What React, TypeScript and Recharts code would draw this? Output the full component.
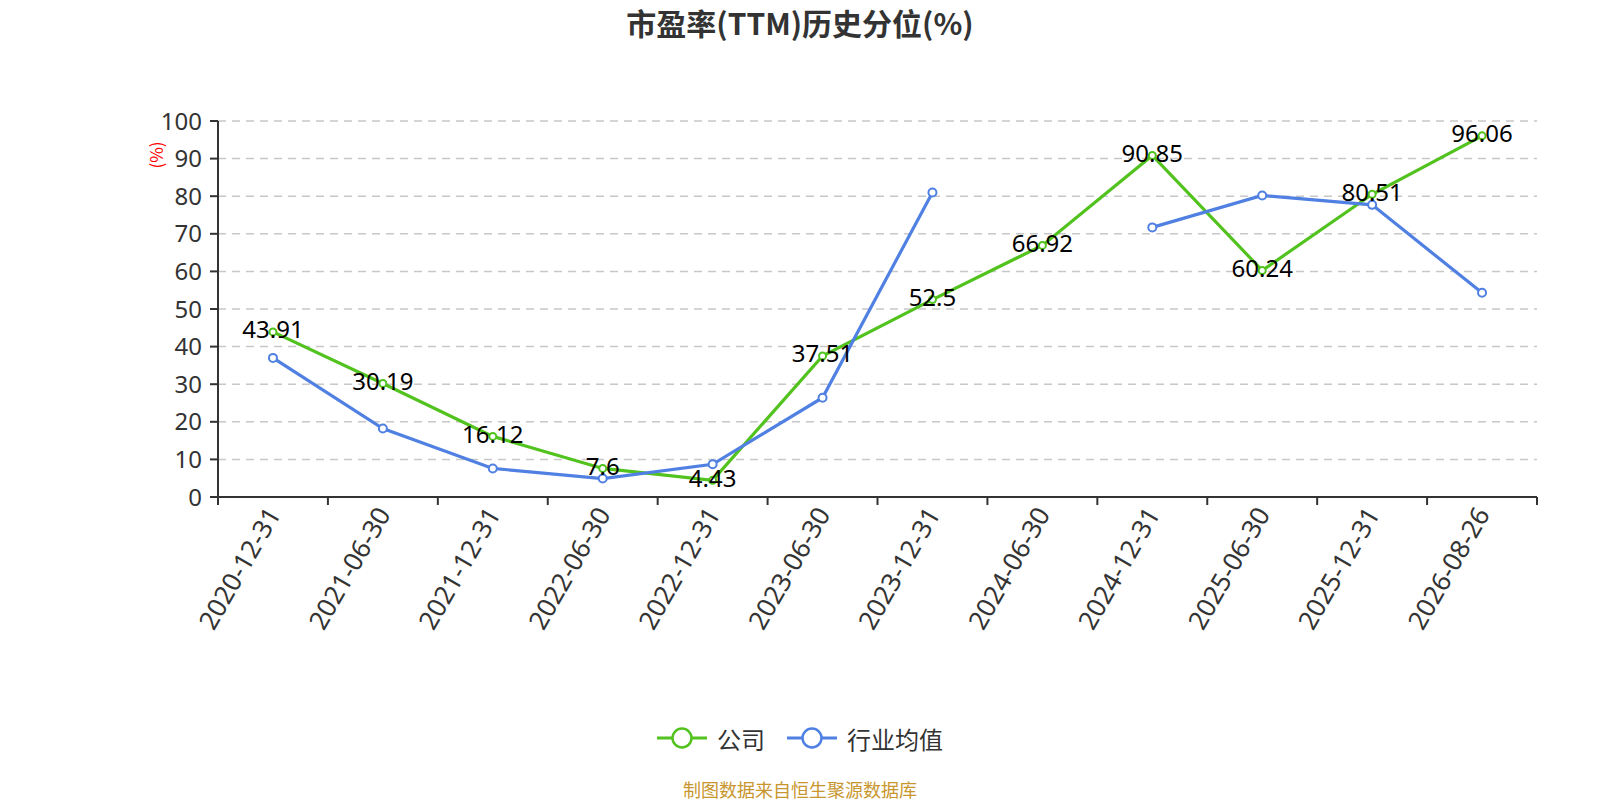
import React from "react";
import { LineChart, Line, XAxis, YAxis, CartesianGrid, LabelList } from "recharts";

const categories = [
  "2020-12-31", "2021-06-30", "2021-12-31", "2022-06-30", "2022-12-31", "2023-06-30",
  "2023-12-31", "2024-06-30", "2024-12-31", "2025-06-30", "2025-12-31", "2026-08-26",
];
const companyValues = [43.91, 30.19, 16.12, 7.6, 4.43, 37.51, 52.5, 66.92, 90.85, 60.24, 80.51, 96.06];
const industryValues: (number | null)[] = [37.0, 18.2, 7.6, 4.9, 8.7, 26.4, 81.0, null, 71.7, 80.2, 77.7, 54.3];
const yTicks = [0, 10, 20, 30, 40, 50, 60, 70, 80, 90, 100];
const xTicks = [-0.5, 0, 0.5, 1, 1.5, 2, 2.5, 3, 3.5, 4, 4.5, 5, 5.5, 6, 6.5, 7, 7.5, 8, 8.5, 9, 9.5, 10, 10.5, 11, 11.5];

const GREEN = "#52c21e";
const BLUE = "#4f80e2";
const FONT = "'Noto Sans CJK SC', 'Noto Sans', sans-serif";
const NUM_FONT = "'Noto Sans', 'Noto Sans CJK SC', sans-serif";

const data = categories.map((c, i) => ({
  idx: i,
  cat: c,
  company: companyValues[i],
  industry: industryValues[i],
}));

const XTick = (props: any) => {
  const { x, y, payload } = props;
  const v = payload.value;
  if (!Number.isInteger(v)) {
    return <line x1={x} x2={x} y1={y - 12} y2={y - 4} stroke="#333" strokeWidth={2} />;
  }
  return (
    <text
      x={x}
      y={y}
      transform={`rotate(-60, ${x}, ${y})`}
      textAnchor="end"
      dominantBaseline="central"
      fontSize={26}
      fill="#333"
      fontFamily={NUM_FONT}
    >
      {categories[v]}
    </text>
  );
};

const LegendIcon = ({ color }: { color: string }) => (
  <svg width={50} height={24} style={{ display: "block" }}>
    <line x1={0} x2={50} y1={12} y2={12} stroke={color} strokeWidth={3} />
    <circle cx={25} cy={12} r={9.5} fill="#fff" stroke={color} strokeWidth={2.5} />
  </svg>
);

export default function App() {
  return (
    <div style={{ position: "absolute", left: 0, top: 0, width: 1600, height: 800, background: "#fff", fontFamily: FONT }}>
      <div
        style={{
          position: "absolute", left: 0, top: 0, width: 1600, textAlign: "center",
          fontSize: 30, fontWeight: "bold", color: "#333", lineHeight: "44px",
        }}
      >
        市盈率(TTM)历史分位(%)
      </div>
      <div
        style={{
          position: "absolute", left: 136, top: 143, width: 40, height: 24, lineHeight: "24px",
          textAlign: "center", fontSize: 17, color: "#f00", transform: "rotate(-90deg)",
        }}
      >
        (%)
      </div>
      <LineChart
        width={1600}
        height={800}
        data={data}
        margin={{ top: 121, right: 63, left: 0, bottom: 0 }}
      >
        <CartesianGrid vertical={false} stroke="#c8c8c8" strokeDasharray="8 6" strokeWidth={1.5} />
        <XAxis
          dataKey="idx"
          type="number"
          domain={[-0.5, 11.5]}
          ticks={xTicks}
          interval={0}
          allowDataOverflow
          height={303}
          tickLine={false}
          tickSize={8}
          tickMargin={4}
          axisLine={{ stroke: "#333", strokeWidth: 2 }}
          tick={<XTick />}
        />
        <YAxis
          domain={[0, 100]}
          ticks={yTicks}
          interval={0}
          width={218}
          tickSize={8}
          tickMargin={8}
          axisLine={{ stroke: "#333", strokeWidth: 2 }}
          tickLine={{ stroke: "#333", strokeWidth: 2 }}
          tick={{ fontSize: 24, fill: "#333", fontFamily: NUM_FONT }}
        />
        <Line
          dataKey="company"
          stroke={GREEN}
          strokeWidth={3.2}
          dot={{ r: 3.5, fill: "#fff", stroke: GREEN, strokeWidth: 2 }}
          isAnimationActive={false}
        />
        <Line
          dataKey="industry"
          stroke={BLUE}
          strokeWidth={3.2}
          dot={{ r: 4, fill: "#fff", stroke: BLUE, strokeWidth: 2 }}
          isAnimationActive={false}
        />
        <Line
          dataKey="company"
          stroke="none"
          dot={false}
          activeDot={false}
          legendType="none"
          isAnimationActive={false}
        >
          <LabelList dataKey="company" position="center" offset={0} dy={-2} fontSize={24} fill="#000" fontFamily={NUM_FONT} />
        </Line>
      </LineChart>
      <div
        style={{
          position: "absolute", left: 0, top: 724, width: 1600, height: 28,
          display: "flex", justifyContent: "center", alignItems: "center",
          fontSize: 24, color: "#333",
        }}
      >
        <LegendIcon color={GREEN} />
        <span style={{ marginLeft: 10, marginRight: 22 }}>公司</span>
        <LegendIcon color={BLUE} />
        <span style={{ marginLeft: 10 }}>行业均值</span>
      </div>
      <div
        style={{
          position: "absolute", left: 0, top: 776, width: 1600, textAlign: "center",
          fontSize: 18, color: "#c8962e", lineHeight: "26px",
        }}
      >
        制图数据来自恒生聚源数据库
      </div>
    </div>
  );
}
